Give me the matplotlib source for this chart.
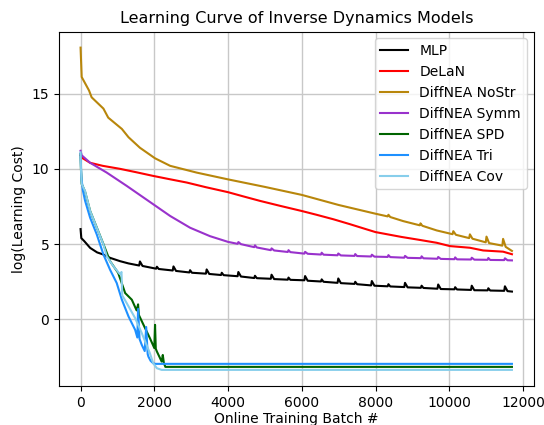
import numpy as np
import matplotlib
matplotlib.use('Agg')
import matplotlib.pyplot as plt

# values (batch #, log cost)
mlp_x = [0, 20, 100, 260, 450, 620, 800, 1070, 1300, 1590, 1610, 1680, 2050, 2070, 2120,
         2500, 2520, 2590, 2950, 2970, 3020, 3400, 3420, 3490, 3810, 3830, 3880,
         4260, 4280, 4350, 4710, 4730, 4780, 5160, 5180, 5250, 5620, 5640, 5690,
         6070, 6090, 6160, 6520, 6540, 6590, 6970, 6990, 7060, 7430, 7450, 7500,
         7880, 7900, 7970, 8330, 8350, 8400, 8780, 8800, 8870, 9230, 9250, 9300,
         9680, 9700, 9770, 10140, 10160, 10210, 10590, 10610, 10680, 11040, 11060, 11110,
         11490, 11510, 11580, 11700]
mlp_y = [6.0, 5.4, 5.2, 4.75, 4.45, 4.31, 4.09, 3.87, 3.72, 3.58, 3.85, 3.55, 3.37, 3.5, 3.35,
         3.25, 3.52, 3.22, 3.12, 3.27, 3.1, 3.04, 3.32, 3.02, 2.95, 3.1, 2.94,
         2.87, 3.15, 2.85, 2.75, 2.9, 2.74, 2.7, 2.97, 2.68, 2.64, 2.78, 2.63,
         2.6, 2.88, 2.57, 2.52, 2.66, 2.5, 2.43, 2.72, 2.41, 2.36, 2.5, 2.34,
         2.26, 2.55, 2.24, 2.2, 2.34, 2.19, 2.15, 2.43, 2.13, 2.1, 2.24, 2.09,
         2.04, 2.32, 2.02, 2.0, 2.14, 1.99, 1.96, 2.24, 1.94, 1.93, 2.07, 1.92,
         1.9, 2.2, 1.88, 1.85]

delan_x = [0, 60, 260, 600, 1070, 1500, 1970, 2400, 2880, 3400, 4000, 4400, 4870, 5400,
           6000, 6400, 6860, 7300, 7760, 8000, 8700, 9200, 9660, 10020, 10560, 10920,
           11460, 11700]
delan_y = [10.9, 10.7, 10.4, 10.2, 10.0, 9.78, 9.53, 9.32, 9.09, 8.78, 8.45, 8.18, 7.87, 7.55,
           7.2, 6.95, 6.65, 6.33, 5.98, 5.8, 5.48, 5.28, 5.09, 4.87, 4.76, 4.58,
           4.5, 4.33]

nostr_x = [0, 30, 230, 300, 620, 750, 1120, 1300, 1610, 2020, 2430, 3150, 4000, 5000,
           6000, 7000, 8000, 8330, 8350, 8400, 8750, 9200, 9220, 9270, 9660,
           10090, 10110, 10180, 10540, 10560, 10630, 10990, 11010, 11080,
           11440, 11460, 11530, 11700]
nostr_y = [18.05, 16.1, 15.2, 14.75, 14.0, 13.4, 12.65, 12.1, 11.4, 10.7, 10.2, 9.75, 9.3, 8.8,
           8.27, 7.6, 7.02, 6.84, 6.95, 6.8, 6.53, 6.25, 6.38, 6.22, 5.91,
           5.66, 5.86, 5.62, 5.4, 5.65, 5.36, 5.12, 5.5, 5.07, 4.9, 5.35, 4.82, 4.55]

symm_x = [0, 30, 260, 710, 1250, 1970, 2430, 2970, 3510, 4000, 4260, 4280, 4350,
          4710, 4730, 4780, 5160, 5180, 5250, 5620, 5640, 5690, 6070, 6090, 6160,
          6520, 6540, 6590, 6970, 6990, 7060, 7430, 7450, 7500, 7880, 7900, 7970,
          8330, 8350, 8400, 8780, 8800, 8870, 9230, 9250, 9300, 9680, 9700, 9770,
          10140, 10160, 10210, 10590, 10610, 10680, 11040, 11060, 11110,
          11490, 11510, 11580, 11700]
symm_y = [11.2, 10.9, 10.4, 9.75, 8.87, 7.65, 6.87, 6.09, 5.53, 5.15, 5.02, 5.14, 5.0,
          4.8, 4.92, 4.78, 4.6, 4.72, 4.58, 4.48, 4.6, 4.47, 4.37, 4.49, 4.36,
          4.31, 4.43, 4.3, 4.26, 4.38, 4.25, 4.22, 4.34, 4.21, 4.18, 4.3, 4.17,
          4.15, 4.27, 4.14, 4.1, 4.22, 4.09, 4.07, 4.19, 4.06, 4.03, 4.15, 4.02,
          4.0, 4.12, 3.99, 3.98, 4.1, 3.97, 3.96, 4.08, 3.95,
          3.94, 4.06, 3.93, 3.92]

spd_x = [0, 10, 30, 120, 260, 440, 620, 800, 1020, 1210, 1390, 1520, 1560, 1580, 1750,
         1880, 2000, 2020, 2040, 2070, 2200, 2230, 2260, 2300, 11700]
spd_y = [11.0, 10.0, 9.0, 8.5, 7.2, 6.1, 5.0, 3.87, 3.09, 1.75, 1.31, 0.6, 1.0, 0.3, -0.58,
         -1.24, -1.9, -0.36, -1.95, -2.13, -2.8, -2.36, -2.9, -3.15, -3.15]

tri_x = [0, 20, 60, 120, 260, 440, 620, 800, 980, 1120, 1300, 1480, 1540, 1560, 1600,
         1660, 1740, 1780, 1820, 1840, 1900, 1970, 2030, 11700]
tri_y = [11.0, 9.5, 8.6, 7.9, 6.75, 5.64, 4.31, 3.3, 2.42, 1.31, 0.2, -0.69, -1.2, 0.7, -1.3,
         -1.69, -2.1, -0.5, -2.3, -2.47, -2.75, -2.91, -2.95, -2.95]

cov_x = [0, 10, 30, 120, 260, 440, 620, 710, 890, 1070, 1110, 1130, 1250, 1480, 1660,
         1880, 1970, 2070, 2200, 11700]
cov_y = [11.1, 10.0, 9.0, 8.53, 7.2, 6.09, 4.98, 4.2, 3.53, 3.0, 3.15, 1.6, 1.09, 0.09, -0.91,
         -2.24, -2.91, -3.24, -3.35, -3.35]

series = [
    ('MLP', mlp_x, mlp_y, 'black'),
    ('DeLaN', delan_x, delan_y, 'red'),
    ('DiffNEA NoStr', nostr_x, nostr_y, 'darkgoldenrod'),
    ('DiffNEA Symm', symm_x, symm_y, 'darkorchid'),
    ('DiffNEA SPD', spd_x, spd_y, 'darkgreen'),
    ('DiffNEA Tri', tri_x, tri_y, 'dodgerblue'),
    ('DiffNEA Cov', cov_x, cov_y, 'skyblue'),
]

fig = plt.figure(figsize=(5.44, 4.25), dpi=100)
ax = fig.add_axes([59 / 544, (425 - 386) / 425, (533.5 - 59) / 544, (386 - 31.5) / 425])

for name, xs, ys, col in series:
    ax.plot(xs, ys, color=col, linewidth=1.5, label=name)

ax.grid(True, color='#c8c8c8', linewidth=1.0)
ax.set_axisbelow(True)
ax.set_xticks([0, 2000, 4000, 6000, 8000, 10000, 12000])
ax.set_yticks([0, 5, 10, 15])
ax.set_title('Learning Curve of Inverse Dynamics Models', fontsize=11.5)
ax.set_xlabel('Online Training Batch #', labelpad=2)
ax.set_ylabel('log(Learning Cost)')
ax.legend(loc='upper right')

fig.savefig('out.png', dpi=100)
